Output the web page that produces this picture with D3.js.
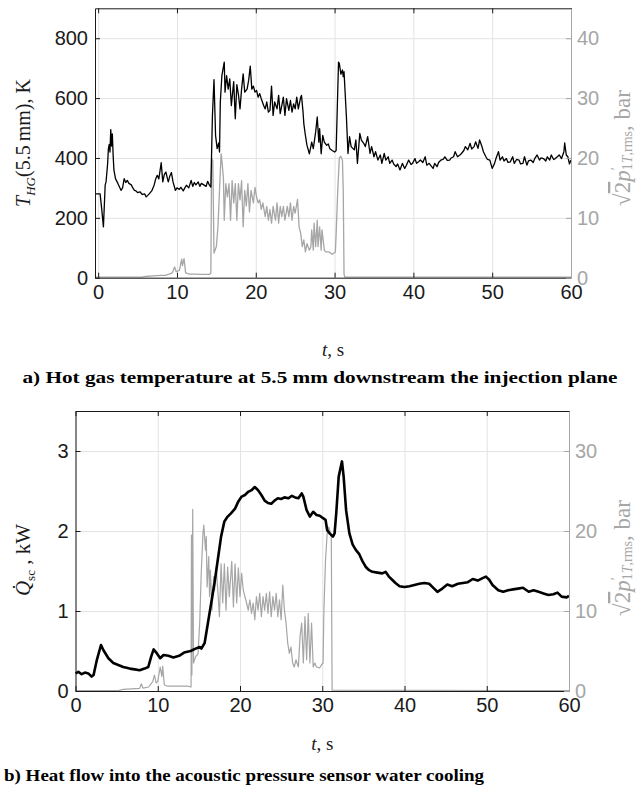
<!DOCTYPE html>
<html>
<head>
<meta charset="utf-8">
<script src="https://cdn.jsdelivr.net/npm/d3@7"></script>
<style>
  body { margin: 0; background: #fff; }
  svg { display: block; }
  .tick text { font-family: "Liberation Sans", Arial, sans-serif; font-size: 20px; }
  .serif { font-family: "Liberation Serif", "DejaVu Serif", serif; }
</style>
</head>
<body>
<svg id="chart" width="640" height="791"></svg>
<script>
// ---- data ----
var xTicks = [0, 10, 20, 30, 40, 50, 60];
var tempTicks = [0, 200, 400, 600, 800];
var pTopTicks = [0, 10, 20, 30, 40];
var heatTicks = [0, 1, 2, 3];
var pBotTicks = [0, 10, 20, 30];

// [t (s), T_HG (K)]
var hotGasTemp = [[-0.4,280],[0.25,280],[0.45,230],[0.67,170],[0.89,309],[1.0,320],[1.2,380],[1.3,431],[1.4,445],[1.5,420],[1.6,495],[1.7,440],[1.8,480],[1.9,410],[2.0,360],[2.2,331],[2.5,315],[2.9,292],[3.1,300],[3.3,331],[3.5,318],[3.7,325],[3.9,315],[4.2,310],[4.4,300],[4.6,292],[4.8,290],[5.0,284],[5.3,287],[5.6,278],[5.9,280],[6.1,270],[6.3,275],[6.5,281],[6.8,290],[7.1,309],[7.3,330],[7.5,342],[7.7,330],[8.0,384],[8.2,320],[8.4,345],[8.6,353],[8.8,330],[8.9,320],[9.1,340],[9.3,351],[9.5,320],[9.8,292],[10.0,300],[10.3,295],[10.5,302],[10.8,290],[11.0,300],[11.2,309],[11.5,300],[11.8,325],[12.0,305],[12.2,318],[12.4,310],[12.7,320],[12.9,305],[13.1,315],[13.4,310],[13.7,305],[13.9,322],[14.1,310],[14.3,303],[14.5,542],[14.7,662],[14.9,475],[15.1,431],[15.3,450],[15.4,420],[15.5,587],[15.7,675],[16.0,720],[16.1,620],[16.3,675],[16.5,630],[16.7,664],[16.9,575],[17.2,655],[17.4,531],[17.6,645],[17.8,612],[18.0,564],[18.2,630],[18.4,681],[18.6,620],[18.9,630],[19.1,660],[19.3,707],[19.5,630],[19.7,640],[19.9,620],[20.1,626],[20.3,603],[20.5,615],[20.7,598],[21.0,575],[21.2,564],[21.4,587],[21.6,553],[21.8,559],[22.0,640],[22.2,542],[22.4,587],[22.7,564],[22.9,609],[23.1,548],[23.3,575],[23.5,603],[23.7,542],[23.9,598],[24.2,559],[24.4,592],[24.6,553],[24.8,581],[25.0,564],[25.2,603],[25.4,564],[25.7,603],[25.8,609],[26.0,553],[26.1,514],[26.3,475],[26.5,442],[26.8,414],[27.1,453],[27.3,431],[27.6,487],[27.8,537],[28.0,453],[28.1,498],[28.3,414],[28.5,475],[28.7,453],[29.0,442],[29.2,447],[29.4,431],[29.7,425],[30.0,420],[30.2,425],[30.5,720],[30.6,716],[30.8,680],[31.0,694],[31.1,672],[31.2,688],[31.5,538],[31.7,415],[31.9,471],[32.1,438],[32.5,427],[32.7,460],[32.9,382],[33.2,482],[33.4,460],[33.7,449],[33.9,438],[34.2,471],[34.5,415],[34.7,438],[35.0,404],[35.2,421],[35.5,393],[35.8,410],[36.0,382],[36.3,415],[36.5,393],[36.8,404],[37.0,382],[37.3,393],[37.5,380],[37.8,371],[38.0,380],[38.3,360],[38.6,382],[38.9,365],[39.1,375],[39.4,393],[39.7,378],[39.9,382],[40.2,398],[40.4,382],[40.7,388],[40.9,393],[41.2,385],[41.5,404],[41.7,376],[42.0,382],[42.2,375],[42.5,365],[42.7,382],[43.0,371],[43.2,385],[43.5,393],[43.8,396],[44.0,404],[44.3,392],[44.6,393],[44.8,400],[45.1,404],[45.3,421],[45.6,404],[45.9,410],[46.1,415],[46.4,425],[46.6,438],[46.9,427],[47.2,449],[47.4,430],[47.7,438],[47.9,454],[48.2,432],[48.4,460],[48.7,438],[48.9,420],[49.2,404],[49.4,395],[49.7,393],[50.0,365],[50.3,382],[50.5,400],[50.8,421],[51.0,393],[51.3,404],[51.5,390],[51.8,398],[52.0,385],[52.3,387],[52.6,404],[52.8,382],[53.1,395],[53.4,393],[53.6,380],[53.9,382],[54.1,404],[54.4,376],[54.6,390],[54.9,393],[55.2,385],[55.4,398],[55.7,410],[56.0,393],[56.2,400],[56.5,398],[56.8,390],[57.0,404],[57.3,393],[57.5,410],[57.8,395],[58.0,398],[58.3,405],[58.5,410],[58.8,398],[59.1,421],[59.2,450],[59.4,410],[59.6,404],[59.8,380],[60.0,393]];

// [t (s), sqrt2 p' (bar)] upper panel
var pressureTop = [[-0.4,0.1],[5.5,0.1],[6.0,0.2],[7.0,0.3],[8.0,0.4],[8.5,0.4],[9.0,0.6],[9.4,0.8],[9.7,1.8],[9.9,1.0],[10.3,1.2],[10.6,3.1],[10.7,2.0],[10.9,3.2],[11.1,0.8],[11.6,0.6],[12.4,0.6],[13.0,0.55],[14.1,0.55],[14.3,0.8],[14.4,20.0],[14.55,19.5],[14.7,4.1],[15.0,5.2],[15.2,8.5],[15.4,14.6],[15.6,20.7],[15.7,19.6],[15.9,16.5],[16.0,9.6],[16.2,15.7],[16.4,13.5],[16.6,15.7],[16.8,9.6],[17.0,16.2],[17.2,12.5],[17.4,15.7],[17.6,9.6],[17.8,15.7],[18.0,13.0],[18.2,16.2],[18.4,8.5],[18.6,14.6],[18.8,12.0],[19.0,15.7],[19.2,11.0],[19.4,14.6],[19.7,12.5],[19.9,15.1],[20.1,13.5],[20.3,12.5],[20.5,13.0],[20.7,11.4],[20.9,12.5],[21.2,10.2],[21.4,11.9],[21.6,9.6],[21.8,11.4],[22.0,9.1],[22.2,11.9],[22.5,9.6],[22.7,12.5],[22.9,9.1],[23.1,11.9],[23.3,10.2],[23.5,11.9],[23.7,9.6],[24.0,11.9],[24.2,10.2],[24.4,12.5],[24.6,9.6],[24.8,11.9],[25.0,10.8],[25.3,13.1],[25.4,10.8],[25.5,8.5],[25.7,7.4],[25.9,5.2],[26.1,6.3],[26.3,4.3],[26.5,5.7],[26.8,4.6],[27.0,5.2],[27.1,8.0],[27.3,4.6],[27.4,9.1],[27.6,5.2],[27.8,9.6],[27.9,5.2],[28.1,8.5],[28.3,4.6],[28.4,8.0],[28.7,4.6],[28.9,4.3],[29.3,4.3],[29.7,3.9],[30.1,4.3],[30.2,7.4],[30.4,14.5],[30.6,20.0],[30.8,20.3],[31.0,19.6],[31.1,14.6],[31.2,0.6],[31.3,0.1],[60,0.1]];

// [t (s), Q_sc (kW)]
var heatFlow = [[0,0.22],[0.35,0.24],[0.75,0.21],[1.15,0.23],[1.56,0.22],[1.96,0.18],[2.2,0.2],[2.6,0.39],[3.1,0.575],[3.4,0.51],[4.0,0.41],[4.6,0.35],[5.2,0.325],[5.8,0.30],[6.6,0.28],[7.2,0.27],[7.8,0.26],[8.4,0.28],[8.85,0.30],[9.2,0.43],[9.5,0.52],[9.9,0.47],[10.3,0.41],[10.7,0.45],[11.3,0.44],[11.9,0.42],[12.6,0.44],[13.2,0.48],[13.6,0.49],[14.0,0.50],[14.6,0.53],[15.1,0.55],[15.3,0.53],[15.7,0.6],[16.1,0.85],[16.5,1.1],[16.9,1.35],[17.3,1.64],[17.7,1.93],[18.1,2.12],[18.5,2.18],[18.9,2.22],[19.4,2.28],[19.8,2.37],[20.2,2.43],[20.6,2.45],[21.0,2.49],[21.4,2.51],[21.8,2.55],[22.2,2.51],[22.6,2.45],[23.0,2.38],[23.4,2.35],[23.8,2.34],[24.2,2.38],[24.6,2.41],[25.0,2.40],[25.4,2.42],[25.9,2.41],[26.3,2.44],[26.7,2.42],[27.1,2.41],[27.5,2.47],[27.7,2.43],[28.1,2.26],[28.5,2.18],[28.9,2.24],[29.3,2.20],[29.7,2.19],[30.1,2.16],[30.4,2.14],[30.6,2.01],[30.9,1.97],[31.3,1.93],[31.5,1.97],[31.7,2.22],[32.0,2.68],[32.4,2.87],[32.6,2.68],[32.9,2.26],[33.3,1.97],[33.7,1.83],[34.1,1.76],[34.5,1.71],[34.9,1.62],[35.3,1.55],[35.7,1.51],[36.1,1.49],[36.7,1.48],[37.3,1.47],[37.7,1.49],[38.1,1.43],[38.5,1.39],[38.9,1.35],[39.4,1.31],[40.0,1.30],[40.6,1.31],[41.2,1.325],[41.8,1.34],[42.4,1.35],[43.0,1.34],[43.6,1.28],[44.0,1.24],[44.6,1.28],[45.2,1.33],[45.8,1.31],[46.5,1.34],[47.1,1.35],[47.7,1.36],[48.3,1.40],[48.9,1.38],[49.5,1.41],[49.9,1.43],[50.3,1.39],[50.7,1.325],[51.4,1.26],[52.0,1.24],[52.6,1.26],[53.2,1.27],[53.8,1.28],[54.4,1.29],[55.1,1.24],[55.7,1.26],[56.3,1.24],[56.9,1.22],[57.5,1.20],[58.1,1.21],[58.6,1.23],[59.1,1.18],[59.7,1.17],[60.0,1.19]];

// [t (s), sqrt2 p' (bar)] lower panel
var pressureBot = [[0,0.05],[5.2,0.05],[5.8,0.2],[7.8,0.33],[8.0,0.9],[8.2,0.35],[8.9,0.5],[9.4,1.2],[9.6,2.0],[9.8,1.0],[10.0,1.2],[10.3,3.0],[10.5,1.8],[10.6,3.1],[10.8,0.75],[11.2,0.6],[12.0,0.6],[13.6,0.6],[14.05,0.5],[14.1,19.5],[14.15,2.0],[14.25,22.7],[14.35,3.5],[14.6,4.3],[14.8,4.5],[14.9,4.7],[15.1,8.5],[15.3,15.1],[15.5,19.7],[15.6,20.75],[15.8,17.6],[15.9,19.3],[16.0,13.0],[16.2,16.8],[16.3,11.8],[16.4,15.1],[16.6,10.1],[16.8,14.3],[16.9,12.6],[17.1,15.5],[17.3,12.6],[17.5,9.3],[17.7,15.9],[17.9,11.0],[18.1,15.9],[18.3,10.1],[18.5,15.5],[18.7,11.8],[19.0,16.2],[19.2,10.5],[19.4,15.9],[19.6,11.0],[19.8,15.4],[20.0,11.8],[20.2,14.7],[20.4,12.6],[20.6,11.8],[20.8,11.0],[21.0,10.1],[21.2,11.4],[21.4,9.7],[21.6,11.0],[21.8,8.9],[22.0,11.8],[22.2,10.1],[22.4,12.2],[22.6,9.3],[22.8,11.8],[23.0,10.1],[23.2,12.2],[23.4,9.7],[23.6,12.4],[23.8,9.3],[24.0,11.8],[24.2,10.1],[24.4,12.2],[24.6,9.3],[24.8,11.4],[25.0,8.9],[25.2,13.25],[25.4,10.1],[25.6,8.5],[25.8,6.0],[26.0,4.7],[26.2,5.5],[26.4,3.5],[26.6,3.0],[26.8,3.9],[27.1,3.0],[27.3,6.8],[27.5,8.5],[27.7,3.5],[27.9,9.3],[28.1,3.9],[28.3,9.7],[28.5,3.5],[28.7,8.5],[28.9,3.0],[29.1,3.5],[29.3,3.0],[29.7,2.9],[29.9,3.25],[30.1,3.5],[30.2,10.1],[30.4,16.4],[30.6,19.7],[30.8,20.5],[31.0,19.7],[31.1,19.3],[31.2,0.1],[60,0.05]];

// ---- drawing ----
var svg = d3.select('#chart');
var ink = '#1a1a1a';
var grey = '#a6a6a6';
var gridColor = '#e3e3e3';

function panel(p) {
  var x = d3.scaleLinear().domain(p.xDomain).range([p.left, p.right]);
  var y = d3.scaleLinear().domain(p.yDomain).range([p.bottom, p.top]);
  var y2 = d3.scaleLinear().domain(p.y2Domain).range([p.bottom, p.top]);
  var w = p.right - p.left, h = p.bottom - p.top;
  var fmt = d3.format('d');
  var g = svg.append('g');

  // grid
  g.append('g')
    .attr('transform', 'translate(0,' + p.bottom + ')')
    .call(d3.axisBottom(x).tickValues(xTicks).tickSize(-h).tickFormat(''))
    .call(function (s) { s.select('.domain').remove(); })
    .selectAll('line').attr('stroke', gridColor);
  g.append('g')
    .attr('transform', 'translate(' + p.left + ',0)')
    .call(d3.axisLeft(y).tickValues(p.yTicks).tickSize(-w).tickFormat(''))
    .call(function (s) { s.select('.domain').remove(); })
    .selectAll('line').attr('stroke', gridColor);

  // series: grey pressure first, black on top
  var lineR = d3.line().x(function (d) { return x(d[0]); }).y(function (d) { return y2(d[1]); });
  var lineL = d3.line().x(function (d) { return x(d[0]); }).y(function (d) { return y(d[1]); });
  g.append('path').datum(p.rightData)
    .attr('d', lineR).attr('fill', 'none')
    .attr('stroke', grey).attr('stroke-width', p.greyWidth).attr('stroke-linejoin', 'round');
  g.append('path').datum(p.leftData)
    .attr('d', lineL).attr('fill', 'none')
    .attr('stroke', '#000').attr('stroke-width', p.blackWidth).attr('stroke-linejoin', 'round');

  // axes, MATLAB style: ticks inward, full box
  var ax = g.append('g').attr('transform', 'translate(0,' + p.bottom + ')')
    .call(d3.axisBottom(x).tickValues(xTicks).tickSize(-5).tickSizeOuter(0).tickPadding(7).tickFormat(fmt));
  ax.selectAll('text').attr('fill', ink);
  ax.selectAll('line,path').attr('stroke', ink);

  var axTop = g.append('g').attr('transform', 'translate(0,' + p.top + ')')
    .call(d3.axisTop(x).tickValues(xTicks).tickSize(-5).tickSizeOuter(0).tickFormat(''));
  axTop.selectAll('line,path').attr('stroke', ink);

  var ayL = g.append('g').attr('transform', 'translate(' + p.left + ',0)')
    .call(d3.axisLeft(y).tickValues(p.yTicks).tickSize(-5).tickSizeOuter(0).tickPadding(7).tickFormat(fmt));
  ayL.selectAll('text').attr('fill', ink);
  ayL.selectAll('line,path').attr('stroke', ink);

  var ayR = g.append('g').attr('transform', 'translate(' + p.right + ',0)')
    .call(d3.axisRight(y2).tickValues(p.y2Ticks).tickSize(-5).tickSizeOuter(0).tickPadding(6).tickFormat(fmt));
  ayR.selectAll('text').attr('fill', grey);
  ayR.selectAll('line,path').attr('stroke', grey);

  // x title
  var xt = g.append('text').attr('class', 'serif')
    .attr('x', (p.left + p.right) / 2).attr('y', p.xTitleY)
    .attr('text-anchor', 'middle').attr('font-size', 19).attr('fill', ink);
  xt.append('tspan').attr('font-style', 'italic').text('t');
  xt.append('tspan').text(', s');

  // right title
  var rt = g.append('text').attr('class', 'serif')
    .attr('transform', 'translate(' + p.rightTitleX + ',' + p.rightTitleY + ') rotate(-90)')
    .attr('text-anchor', 'middle').attr('font-size', 23).attr('fill', grey);
  rt.append('tspan').text('\u221A');
  rt.append('tspan').attr('text-decoration', 'overline').text('2');
  rt.append('tspan').attr('font-style', 'italic').text('p');
  rt.append('tspan').attr('font-size', 14).attr('dy', -9).text('\u2032');
  rt.append('tspan').attr('font-size', 14).attr('dx', -3).attr('dy', 11).text('1');
  rt.append('tspan').attr('font-size', 14).attr('font-style', 'italic').text('T');
  rt.append('tspan').attr('font-size', 14).text(',rms');
  rt.append('tspan').attr('dy', -2).text(', bar');

  return g;
}

// upper panel
var panelA = panel({
  xDomain: [-0.4, 60], yDomain: [0, 900], y2Domain: [0, 45],
  yTicks: tempTicks, y2Ticks: pTopTicks,
  left: 95, right: 571, top: 8.3, bottom: 277.7,
  leftData: hotGasTemp, rightData: pressureTop,
  blackWidth: 1.3, greyWidth: 1.3,
  xTitleY: 356, rightTitleX: 630, rightTitleY: 148
});
var lt = panelA.append('text').attr('class', 'serif')
  .attr('transform', 'translate(30,143) rotate(-90)')
  .attr('text-anchor', 'middle').attr('font-size', 20).attr('fill', ink);
lt.append('tspan').attr('font-style', 'italic').text('T');
lt.append('tspan').attr('font-style', 'italic').attr('font-size', 13).attr('dy', 5).text('HG');
lt.append('tspan').attr('dy', -5).text('(5.5\u2009mm), K');

// lower panel
var panelB = panel({
  xDomain: [0, 60], yDomain: [0, 3.5], y2Domain: [0, 35],
  yTicks: heatTicks, y2Ticks: pBotTicks,
  left: 75.5, right: 569, top: 411, bottom: 691,
  leftData: heatFlow, rightData: pressureBot,
  blackWidth: 2.6, greyWidth: 1.2,
  xTitleY: 750, rightTitleX: 630, rightTitleY: 558
});
var lb = panelB.append('text').attr('class', 'serif')
  .attr('transform', 'translate(30,560) rotate(-90)')
  .attr('text-anchor', 'middle').attr('font-size', 21).attr('fill', ink);
lb.append('tspan').attr('font-style', 'italic').text('Q\u0307');
lb.append('tspan').attr('font-size', 13).attr('dy', 5).text('sc');
lb.append('tspan').attr('dy', -5).text(' , kW');

// captions
svg.append('text').attr('class', 'serif')
  .attr('x', 320).attr('y', 383).attr('text-anchor', 'middle')
  .attr('font-size', 17.5).attr('font-weight', 'bold').attr('fill', '#000')
  .attr('textLength', 595).attr('lengthAdjust', 'spacingAndGlyphs')
  .text('a) Hot gas temperature at 5.5 mm downstream the injection plane');
svg.append('text').attr('class', 'serif')
  .attr('x', 4).attr('y', 781)
  .attr('font-size', 17.5).attr('font-weight', 'bold').attr('fill', '#000')
  .attr('textLength', 480).attr('lengthAdjust', 'spacingAndGlyphs')
  .text('b) Heat flow into the acoustic pressure sensor water cooling');
</script>
</body>
</html>
